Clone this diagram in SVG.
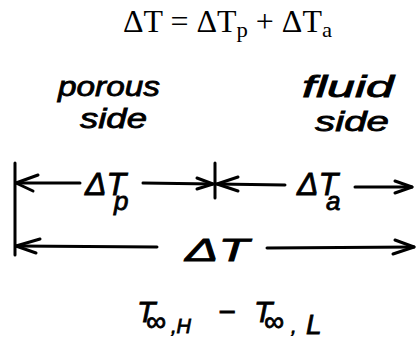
<svg xmlns="http://www.w3.org/2000/svg" width="417" height="343" viewBox="0 0 417 343">
<style>
.title{font-family:"Liberation Serif",serif;font-size:31px;fill:#000}
.hand{font-family:"Liberation Sans",sans-serif;font-style:italic;fill:#000;stroke:#000;stroke-width:0.8}
.ln{stroke:#000;stroke-width:3;fill:none;stroke-linecap:round;stroke-linejoin:round}
</style>
<rect width="417" height="343" fill="#fff"/>
<g id="equation">
<text class="title" x="123" y="32" textLength="209" lengthAdjust="spacingAndGlyphs">ΔT = ΔT<tspan font-size="22" dy="5">p</tspan><tspan dy="-5"> + ΔT</tspan><tspan font-size="22" dy="5">a</tspan></text>
</g>
<g id="porous-side">
<text class="hand" x="58" y="96" font-size="28" textLength="102" lengthAdjust="spacingAndGlyphs">porous</text>
<text class="hand" x="80" y="128" font-size="28" textLength="67" lengthAdjust="spacingAndGlyphs">side</text>
</g>
<g id="fluid-side">
<text class="hand" x="302" y="97" font-size="30" textLength="92" lengthAdjust="spacingAndGlyphs">fluid</text>
<text class="hand" x="315" y="131" font-size="28" textLength="74" lengthAdjust="spacingAndGlyphs">side</text>
</g>
<g id="connectors">
<line class="ln" x1="15" y1="163" x2="15" y2="255"/>
<line class="ln" x1="215" y1="163" x2="215" y2="198"/>
<line class="ln" x1="80" y1="183" x2="16" y2="183"/>
<polyline class="ln" points="38,175 16,183 33,191"/>
<line class="ln" x1="143" y1="183" x2="213" y2="184"/>
<polyline class="ln" points="197,178 213,184 197,189"/>
<line class="ln" x1="285" y1="185" x2="217" y2="184"/>
<polyline class="ln" points="238,177 217,184 238,191"/>
<line class="ln" x1="355" y1="187" x2="412" y2="187"/>
<polyline class="ln" points="395,181 412,187 395,193"/>
<line class="ln" x1="157" y1="247" x2="16" y2="246"/>
<polyline class="ln" points="40,239 16,246 36,253"/>
<line class="ln" x1="267" y1="248" x2="414" y2="247"/>
<polyline class="ln" points="395,240 414,247 393,254"/>
</g>
<g id="dT-p">
<text class="hand" x="85" y="195" font-size="32">ΔT<tspan font-size="26" dx="-12" dy="15">p</tspan></text>
</g>
<g id="dT-a">
<text class="hand" x="297" y="195" font-size="32">ΔT<tspan font-size="26" dx="-12" dy="15">a</tspan></text>
</g>
<g id="dT-total">
<text class="hand" x="185" y="261" font-size="32" textLength="64" lengthAdjust="spacingAndGlyphs">ΔT</text>
</g>
<g id="difference">
<text class="hand" x="137" y="322" font-size="30">T<tspan font-size="28" x="146" dy="9">∞</tspan><tspan font-size="20" x="171" dy="2">,H</tspan><tspan font-size="30" x="218" dy="-11">−</tspan><tspan font-size="30" x="254">T</tspan><tspan font-size="28" x="264" dy="9">∞</tspan><tspan font-size="20" x="291" dy="2">,</tspan><tspan font-size="28" x="306" dy="1">L</tspan></text>
</g>
</svg>
